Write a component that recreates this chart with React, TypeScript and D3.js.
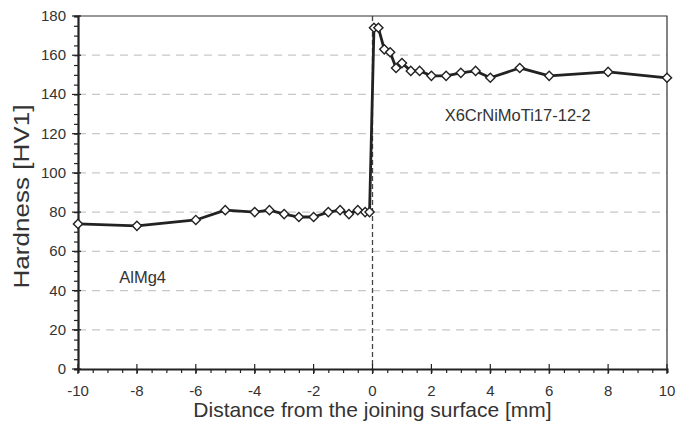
import React, { useEffect, useRef } from "react";
import * as d3 from "d3";

const distance: number[] = [
  -10, -8, -6, -5, -4, -3.5, -3, -2.5, -2, -1.5, -1.1, -0.8, -0.5, -0.25, -0.1,
  0.05, 0.2, 0.4, 0.6, 0.8, 1.0, 1.3, 1.6, 2, 2.5, 3, 3.5, 4, 5, 6, 8, 10,
];
const hardness: number[] = [
  74, 73, 76, 81, 80, 81, 79, 77.5, 77.5, 80, 81, 79, 81, 80, 80,
  174, 174, 163, 161.5, 153.5, 156, 152, 152, 149.5, 149.5, 151, 152, 148.5, 153.5, 149.5, 151.5, 148.5,
];
const xTicks: number[] = [-10, -8, -6, -4, -2, 0, 2, 4, 6, 8, 10];
const yTicks: number[] = [0, 20, 40, 60, 80, 100, 120, 140, 160, 180];
const gridValues: number[] = [20, 40, 60, 80, 100, 120, 140, 160];
const labels = [
  { text: "AlMg4", x: -8.6, y: 44 },
  { text: "X6CrNiMoTi17-12-2", x: 2.45, y: 126.5 },
];
const xTitle = "Distance from the joining surface [mm]";
const yTitle = "Hardness [HV1]";

const W = 676;
const H = 430;
const M = { left: 78, right: 9, top: 16, bottom: 61 };
const FONT = "'Liberation Sans', Arial, sans-serif";

export default function App() {
  const ref = useRef<SVGSVGElement>(null);
  useEffect(() => {
    const svg = d3.select(ref.current);
    svg.selectAll("*").remove();
    const x = d3.scaleLinear().domain([-10, 10]).range([M.left, W - M.right]);
    const y = d3.scaleLinear().domain([0, 180]).range([H - M.bottom, M.top]);

    // gridlines
    svg.append("g")
      .selectAll("line")
      .data(gridValues)
      .join("line")
      .attr("x1", x(-10)).attr("x2", x(10))
      .attr("y1", (d) => y(d)).attr("y2", (d) => y(d))
      .attr("stroke", "#c8c8c8").attr("stroke-width", 1.2)
      .attr("stroke-dasharray", "8,6");

    // frame (top & right)
    svg.append("path")
      .attr("d", `M${x(-10)},${y(180)}H${x(10)}V${y(0)}`)
      .attr("fill", "none").attr("stroke", "#333").attr("stroke-width", 1.2);

    // vertical dashed at 0
    svg.append("line")
      .attr("x1", x(0)).attr("x2", x(0))
      .attr("y1", y(180)).attr("y2", y(0))
      .attr("stroke", "#444").attr("stroke-width", 1.3)
      .attr("stroke-dasharray", "5,3");

    // x axis
    const xAxis = svg.append("g").attr("transform", `translate(0,${y(0)})`);
    xAxis.call(
      d3.axisBottom(x).tickValues(d3.range(-10, 10.01, 0.5)).tickSize(4).tickFormat(() => "")
    );
    xAxis.selectAll(".domain").attr("stroke", "#222").attr("stroke-width", 2);
    xAxis.selectAll(".tick line").attr("stroke", "#222").attr("stroke-width", 1.2);
    svg.append("g")
      .selectAll("line")
      .data(xTicks)
      .join("line")
      .attr("x1", (d) => x(d)).attr("x2", (d) => x(d))
      .attr("y1", y(0) - 5).attr("y2", y(0) + 5)
      .attr("stroke", "#222").attr("stroke-width", 1.2);
    svg.append("g")
      .selectAll("text")
      .data(xTicks)
      .join("text")
      .attr("x", (d) => x(d)).attr("y", y(0) + 27)
      .attr("text-anchor", "middle")
      .attr("font-family", FONT).attr("font-size", 15).attr("fill", "#333")
      .text((d) => String(d));

    // y axis
    const yAxis = svg.append("g").attr("transform", `translate(${x(-10)},0)`);
    yAxis.call(
      d3.axisLeft(y).tickValues(d3.range(0, 180.01, 5)).tickSize(4).tickFormat(() => "")
    );
    yAxis.selectAll(".domain").attr("stroke", "#222").attr("stroke-width", 2.2);
    yAxis.selectAll(".tick line").attr("stroke", "#222").attr("stroke-width", 1.2);
    svg.append("g")
      .selectAll("line")
      .data(yTicks)
      .join("line")
      .attr("x1", x(-10) - 6).attr("x2", x(-10) + 3)
      .attr("y1", (d) => y(d)).attr("y2", (d) => y(d))
      .attr("stroke", "#222").attr("stroke-width", 1.2);
    svg.append("g")
      .selectAll("text")
      .data(yTicks)
      .join("text")
      .attr("x", x(-10) - 12).attr("y", (d) => y(d) + 5)
      .attr("text-anchor", "end")
      .attr("font-family", FONT).attr("font-size", 15).attr("fill", "#333")
      .text((d) => String(d));

    // titles
    svg.append("text")
      .attr("x", x(0)).attr("y", H - 13)
      .attr("text-anchor", "middle")
      .attr("font-family", FONT).attr("font-size", 21).attr("fill", "#333")
      .text(xTitle);
    svg.append("text")
      .attr("transform", `translate(29,${(y(0) + y(180)) / 2 + 4}) rotate(-90)`)
      .attr("text-anchor", "middle")
      .attr("font-family", FONT).attr("font-size", 22).attr("fill", "#333")
      .attr("textLength", 184).attr("lengthAdjust", "spacingAndGlyphs")
      .text(yTitle);

    // line
    const pts = distance.map((d, i) => [d, hardness[i]] as [number, number]);
    svg.append("path")
      .datum(pts)
      .attr("d", d3.line<[number, number]>().x((d) => x(d[0])).y((d) => y(d[1])))
      .attr("fill", "none").attr("stroke", "#222").attr("stroke-width", 2.8)
      .attr("stroke-linejoin", "round");

    // markers
    const sym = d3.symbol().type(d3.symbolSquare).size(42);
    svg.append("g")
      .selectAll("path")
      .data(pts)
      .join("path")
      .attr("d", sym() as string)
      .attr("transform", (d) => `translate(${x(d[0])},${y(d[1])}) rotate(45)`)
      .attr("fill", "#fff").attr("stroke", "#222").attr("stroke-width", 1.4);

    // labels
    svg.append("g")
      .selectAll("text")
      .data(labels)
      .join("text")
      .attr("x", (d) => x(d.x)).attr("y", (d) => y(d.y))
      .attr("font-family", FONT).attr("font-size", 16.5).attr("fill", "#333")
      .text((d) => d.text);
  }, []);
  return (
    <svg
      ref={ref}
      width={W}
      height={H}
      style={{ position: "absolute", left: 0, top: 0, background: "#fff" }}
    />
  );
}
